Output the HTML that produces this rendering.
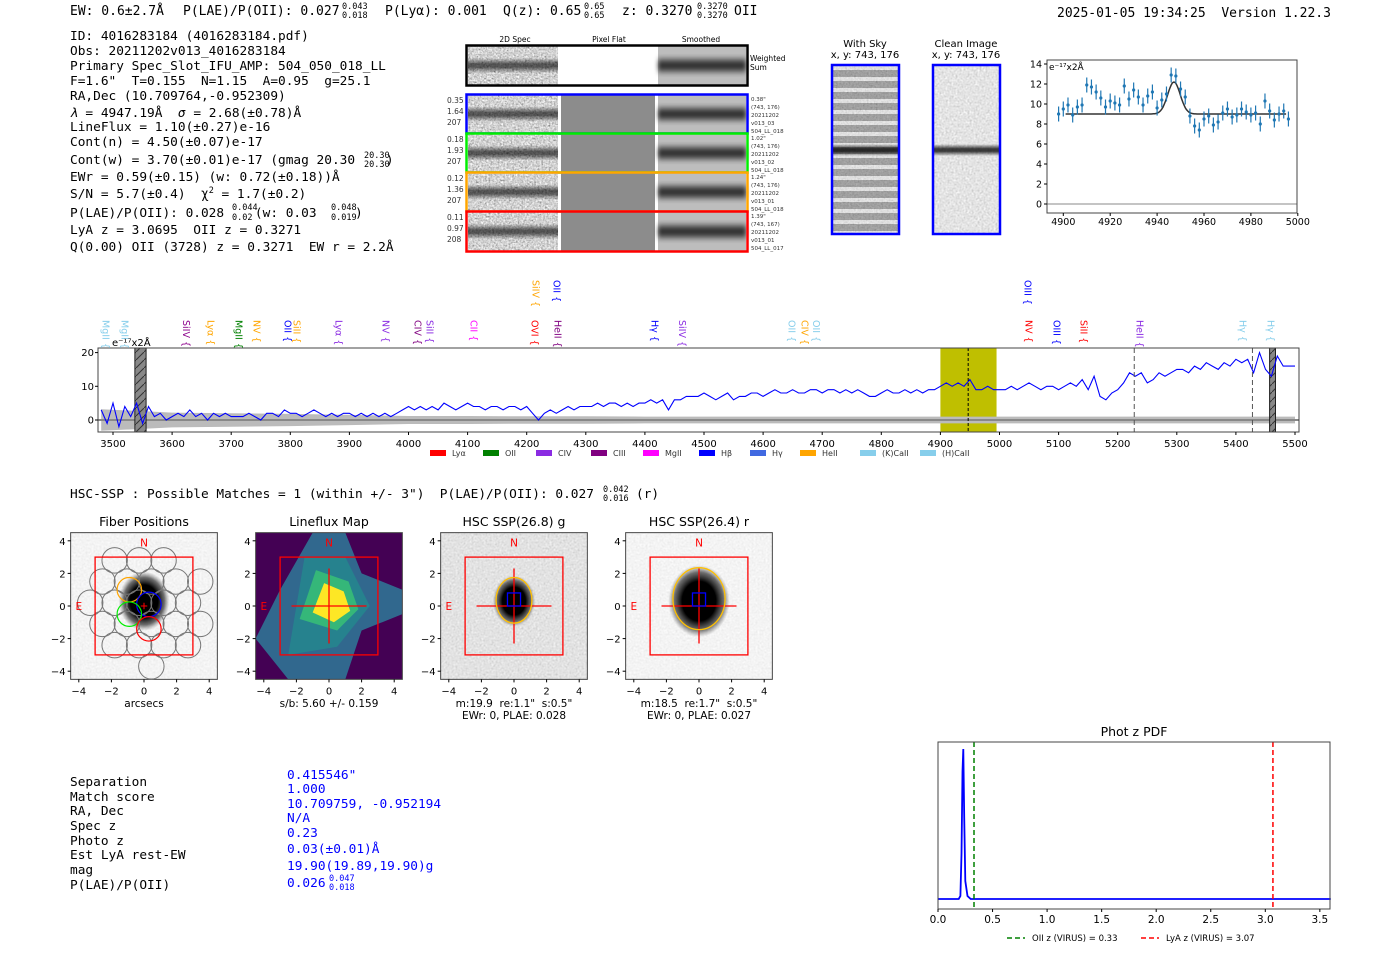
<!DOCTYPE html>
<html><head><meta charset="utf-8"><title>Detection report</title>
<style>
html,body{margin:0;padding:0;background:#fff;}
svg{display:block;}
svg text{white-space:pre;}
.mono{font-family:"DejaVu Sans Mono","Liberation Mono",monospace;}
.sans{font-family:"DejaVu Sans","Liberation Sans",sans-serif;}
</style></head>
<body>
<svg id="page" width="1400" height="953" viewBox="0 0 1400 953" xmlns="http://www.w3.org/2000/svg" xml:space="preserve">
<defs>
  <filter id="noise" x="0" y="0" width="100%" height="100%">
    <feTurbulence type="fractalNoise" baseFrequency="0.55" numOctaves="2" seed="3"/>
    <feColorMatrix type="matrix" values="0.33 0.33 0.33 0 0  0.33 0.33 0.33 0 0  0.33 0.33 0.33 0 0  0 0 0 0 1"/>
    <feComponentTransfer><feFuncR type="linear" slope="1.8" intercept="-0.25"/><feFuncG type="linear" slope="1.8" intercept="-0.25"/><feFuncB type="linear" slope="1.8" intercept="-0.25"/></feComponentTransfer>
  </filter>
  <filter id="noiseLight" x="0" y="0" width="100%" height="100%">
    <feTurbulence type="fractalNoise" baseFrequency="0.5" numOctaves="1" seed="7"/>
    <feColorMatrix type="matrix" values="0.3 0.3 0.3 0 0.2  0.3 0.3 0.3 0 0.2  0.3 0.3 0.3 0 0.2  0 0 0 0 1"/>
  </filter>
  <filter id="noiseMid" x="0" y="0" width="100%" height="100%">
    <feTurbulence type="fractalNoise" baseFrequency="0.5" numOctaves="1" seed="5"/>
    <feColorMatrix type="matrix" values="0.3 0.3 0.3 0 0.32  0.3 0.3 0.3 0 0.32  0.3 0.3 0.3 0 0.32  0 0 0 0 1"/>
  </filter>
  <filter id="noiseVeryLight" x="0" y="0" width="100%" height="100%">
    <feTurbulence type="fractalNoise" baseFrequency="0.5" numOctaves="1" seed="11"/>
    <feColorMatrix type="matrix" values="0.12 0.12 0.12 0 0.72  0.12 0.12 0.12 0 0.72  0.12 0.12 0.12 0 0.72  0 0 0 0 1"/>
  </filter>
  <filter id="blur2"><feGaussianBlur stdDeviation="2"/></filter>
  <radialGradient id="blob" cx="50%" cy="50%" r="50%">
    <stop offset="0" stop-color="#000"/><stop offset="0.55" stop-color="#000"/><stop offset="0.8" stop-color="#333" stop-opacity="0.7"/><stop offset="1" stop-color="#666" stop-opacity="0"/>
  </radialGradient>
  <linearGradient id="band" x1="0" y1="0" x2="0" y2="1">
    <stop offset="0" stop-color="#000" stop-opacity="0"/><stop offset="0.4" stop-color="#000" stop-opacity="0.75"/><stop offset="0.6" stop-color="#000" stop-opacity="0.75"/><stop offset="1" stop-color="#000" stop-opacity="0"/>
  </linearGradient>
  <pattern id="skyStripes" width="10" height="11" patternUnits="userSpaceOnUse">
    <rect width="10" height="11" fill="#8a8a8a"/><rect y="0" width="10" height="4" fill="#e6e6e6"/>
  </pattern>
  <pattern id="hatch" width="8" height="8" patternUnits="userSpaceOnUse">
    <rect width="8" height="8" fill="#888"/><path d="M0,8 L8,0" stroke="#333" stroke-width="1"/>
  </pattern>
</defs>

<!-- header -->
<g class="mono" font-size="13" fill="#000">
  <text x="70" y="15">EW: 0.6±2.7Å</text>
  <text x="183" y="15">P(LAE)/P(OII): 0.027</text>
  <text x="342" y="9" font-size="8.5">0.043</text><text x="342" y="18" font-size="8.5">0.018</text>
  <text x="385" y="15">P(Lyα): 0.001</text>
  <text x="503" y="15">Q(z): 0.65</text>
  <text x="584" y="9" font-size="8.5">0.65</text><text x="584" y="18" font-size="8.5">0.65</text>
  <text x="622" y="15">z: 0.3270</text>
  <text x="697" y="9" font-size="8.5">0.3270</text><text x="697" y="18" font-size="8.5">0.3270</text>
  <text x="734" y="15">OII</text>
</g>
<text class="mono" x="1057" y="17" font-size="13">2025-01-05 19:34:25  Version 1.22.3</text>

<!-- left detail block -->
<g class="mono" font-size="12.8" fill="#000">
  <text x="70" y="40">ID: 4016283184 (4016283184.pdf)</text>
  <text x="70" y="55">Obs: 20211202v013_4016283184</text>
  <text x="70" y="70">Primary Spec_Slot_IFU_AMP: 504_050_018_LL</text>
  <text x="70" y="85">F=1.6"  T=0.155  N=1.15  A=0.95  g=25.1</text>
  <text x="70" y="100">RA,Dec (10.709764,-0.952309)</text>
  <text x="70" y="117"><tspan font-style="italic">λ</tspan> = 4947.19Å  <tspan font-style="italic">σ</tspan> = 2.68(±0.78)Å</text>
  <text x="70" y="131">LineFlux = 1.10(±0.27)e-16</text>
  <text x="70" y="146">Cont(n) = 4.50(±0.07)e-17</text>
  <text x="70" y="164">Cont(w) = 3.70(±0.01)e-17 (gmag 20.30    )</text>
  <text x="364" y="158" font-size="8.5">20.30</text><text x="364" y="167" font-size="8.5">20.30</text>
  <text x="70" y="181">EWr = 0.59(±0.15) (w: 0.72(±0.18))Å</text>
  <text x="70" y="198">S/N = 5.7(±0.4)  χ<tspan font-size="8.5" dy="-5">2</tspan><tspan dy="5"> = 1.7(±0.2)</tspan></text>
  <text x="70" y="217">P(LAE)/P(OII): 0.028    (w: 0.03     )</text>
  <text x="232" y="210" font-size="8.5">0.044</text><text x="232" y="220" font-size="8.5">0.02</text>
  <text x="331" y="210" font-size="8.5">0.048</text><text x="331" y="220" font-size="8.5">0.019</text>
  <text x="70" y="234">LyA z = 3.0695  OII z = 0.3271</text>
  <text x="70" y="251">Q(0.00) OII (3728) z = 0.3271  EW r = 2.2Å</text>
</g>

<!-- 2D spectra cutouts -->
<g id="cutouts" class="sans">
  <text x="515" y="42" font-size="7.5" text-anchor="middle">2D Spec</text>
  <text x="609" y="42" font-size="7.5" text-anchor="middle">Pixel Flat</text>
  <text x="701" y="42" font-size="7.5" text-anchor="middle">Smoothed</text>
  <text x="750" y="61" font-size="7.5">Weighted</text>
  <text x="750" y="70" font-size="7.5">Sum</text>
</g>

<!-- sky stamps -->
<g class="sans" font-size="10" text-anchor="middle">
  <text x="865" y="47">With Sky</text><text x="865" y="58">x, y: 743, 176</text>
  <text x="966" y="47">Clean Image</text><text x="966" y="58">x, y: 743, 176</text>
  <rect x="832" y="65" width="67" height="169" fill="url(#skyStripes)"/>
  <rect x="832" y="65" width="67" height="169" filter="url(#noise)" opacity="0.3"/>
  <rect x="832" y="144" width="67" height="12" fill="url(#band)"/>
  <rect x="832" y="65" width="67" height="169" fill="none" stroke="#0000ff" stroke-width="2.5"/>
  <rect x="933" y="65" width="67" height="169" filter="url(#noiseMid)"/>
  <rect x="933" y="144" width="67" height="12" fill="url(#band)"/>
  <rect x="933" y="65" width="67" height="169" fill="none" stroke="#0000ff" stroke-width="2.5"/>
</g>

<g id="zoomSpec" class="sans"></g>
<g id="mainSpec" class="sans"></g>

<text class="mono" x="70" y="498" font-size="12.8">HSC-SSP : Possible Matches = 1 (within +/- 3")  P(LAE)/P(OII): 0.027</text>
<text class="mono" x="603" y="492" font-size="8.5">0.042</text>
<text class="mono" x="603" y="501" font-size="8.5">0.016</text>
<text class="mono" x="636" y="498" font-size="12.8">(r)</text>

<g id="panels" class="sans"></g>

<!-- bottom table -->
<g class="mono" font-size="12.8">
  <text x="70" y="786">Separation</text><text x="287" y="779" fill="#0000ff">0.415546"</text>
  <text x="70" y="801">Match score</text><text x="287" y="793" fill="#0000ff">1.000</text>
  <text x="70" y="815">RA, Dec</text><text x="287" y="808" fill="#0000ff">10.709759, -0.952194</text>
  <text x="70" y="830">Spec z</text><text x="287" y="822" fill="#0000ff">N/A</text>
  <text x="70" y="845">Photo z</text><text x="287" y="837" fill="#0000ff">0.23</text>
  <text x="70" y="859">Est LyA rest-EW</text><text x="287" y="853" fill="#0000ff">0.03(±0.01)Å</text>
  <text x="70" y="874">mag</text><text x="287" y="870" fill="#0000ff">19.90(19.89,19.90)g</text>
  <text x="70" y="889">P(LAE)/P(OII)</text><text x="287" y="887" fill="#0000ff">0.026</text>
  <text x="329" y="881" font-size="8.5" fill="#0000ff">0.047</text><text x="329" y="890" font-size="8.5" fill="#0000ff">0.018</text>
</g>

<g id="photz" class="sans"></g>

<script>
// ===== data =====
const zoomWave = [4898,4900,4902,4904,4906,4908,4910,4912,4914,4916,4918,4920,4922,4924,4926,4928,4930,4932,4934,4936,4938,4940,4942,4944,4946,4948,4950,4952,4954,4956,4958,4960,4962,4964,4966,4968,4970,4972,4974,4976,4978,4980,4982,4984,4986,4988,4990,4992,4994,4996];
const zoomFlux = [9.0,9.5,9.9,8.9,9.7,9.9,11.9,11.7,11.2,10.6,9.7,10.3,10.1,9.9,11.8,10.5,11.4,10.7,9.9,10.8,11.2,9.6,10.4,11.0,12.9,12.8,11.5,10.7,8.8,7.8,7.4,8.5,8.8,7.9,8.2,9.1,9.5,8.7,8.9,9.5,9.2,8.9,9.1,8.0,10.3,9.3,8.4,9.0,9.3,8.5];
const zoomErr = [0.75,0.75,0.75,0.75,0.75,0.75,0.75,0.75,0.75,0.75,0.75,0.75,0.75,0.75,0.75,0.75,0.75,0.75,0.75,0.75,0.75,0.75,0.75,0.75,0.75,0.75,0.75,0.75,0.75,0.75,0.75,0.75,0.75,0.75,0.75,0.75,0.75,0.75,0.75,0.75,0.75,0.75,0.75,0.75,0.75,0.75,0.75,0.75,0.75,0.75];
const fitParams = [9.0, 3.2, 4947.19, 2.68]; // continuum, amplitude, center, sigma
const zoomXTicks = [4900,4920,4940,4960,4980,5000];
const zoomYTicks = [0,2,4,6,8,10,12,14];

const specFlux = [3,-1,5,-2,4,1,5,-1,4,
 1,2,0,1,2,1,3,1,2,0,2,1,2,1,
 1,1,2,1,0,2,2,1,3,2,2,1,2,3,2,1,2,1,2,2,
 1,2,1,2,1,2,1,2,3,4,
 3,4,3,4,3,5,4,3,4,5,4,4,3,4,4,3,4,4,3,4,
 2,0,2,3,2,3,4,3,4,4,
 4,5,4,5,5,4,5,4,5,5,6,5,6,3,6,6,7,7,7,8,
 7,6,7,8,6,7,7,8,8,7,8,9,8,8,9,8,8,9,9,8,
 9,9,8,9,8,9,8,7,7,8,9,8,8,9,8,9,8,9,9,10,
 11,10,11,10,12,9,9,10,9,9,
 9,10,9,10,11,10,9,10,10,9,
 10,11,10,12,9,13,7,6,8,9,
 11,14,13,14,11,12,14,13,14,15,
 15,14,16,15,17,16,15,17,16,18,
 17,18,14,20,15,13,19,16,16,16];
const specStart = 3480, specStep = 10;
const noiseWave = [3480,3600,3700,3800,3900,4000,4100,4200,4300,4400,4500,4700,4900,5100,5300,5500];
const noiseLevel = [3.2,2.2,2.0,1.8,1.5,1.2,1.2,1.1,1.1,1.0,1.0,1.0,1.0,1.0,1.0,1.0];
const specXTicks = [3500,3600,3700,3800,3900,4000,4100,4200,4300,4400,4500,4600,4700,4800,4900,5000,5100,5200,5300,5400,5500];
const specYTicks = [0,10,20];
const lineWave = [3488,3520,3624,3666,3713,3744,3796,3811,3882,3962,4016,4036,4111,4214,4253,4216,4251,4417,4464,4649,4671,4690,5050,5048,5097,5143,5238,5412,5459];
const lineName = ["MgII","MgII","SiIV","Lyα","MgII","NV","OII","SiII","Lyα","NV","CIV","SiII","CII","OVI","HeII","SiIV","OII","Hγ","SiIV","OII","CIV","OII","NV","OIII","OIII","SiII","HeII","Hγ","Hγ"];
const lineColor = ["#87ceeb","#87ceeb","#8b008b","#ffa500","#008000","#ffa500","#0000ff","#ffa500","#8a2be2","#8a2be2","#800080","#8a2be2","#ff00ff","#ff0000","#800080","#ffa500","#0000ff","#0000ff","#8a2be2","#87ceeb","#ffa500","#87ceeb","#ff0000","#0000ff","#0000ff","#ff0000","#8a2be2","#87ceeb","#87ceeb"];
const lineRow = [0,0,0,0,0,0,0,0,0,0,0,0,0,0,0,1,1,0,0,0,0,0,0,1,0,0,0,0,0];
const legendNames = ["Lyα","OII","CIV","CIII","MgII","Hβ","Hγ","HeII","(K)CaII","(H)CaII"];
const legendColors = ["#ff0000","#008000","#8a2be2","#800080","#ff00ff","#0000ff","#4169e1","#ffa500","#87ceeb","#87ceeb"];

const pdfZ = [0,0.19,0.205,0.215,0.225,0.232,0.24,0.25,0.27,0.3,3.6];
const pdfP = [0,0,0.02,0.3,0.85,1.0,0.55,0.12,0.02,0,0];
const pdfXTicks = [0,0.5,1.0,1.5,2.0,2.5,3.0,3.5];
const pdfMarkers = [0.33, 3.07];

const NS = "http://www.w3.org/2000/svg";
function mk(parent, tag, attrs, txt){
  const e = document.createElementNS(NS, tag);
  for (const k in attrs) e.setAttribute(k, attrs[k]);
  if (txt !== undefined) e.textContent = txt;
  parent.appendChild(e);
  return e;
}

// ===== cutouts =====
(function(){
  const g = document.getElementById('cutouts');
  const rows = [[46,39,"#000"],[95,38,"#0000ff"],[134,38,"#00ee00"],[173,38,"#ffa500"],[212,39,"#ff0000"]];
  const leftNums = [null,["0.35","1.64","207"],["0.18","1.93","207"],["0.12","1.36","207"],["0.11","0.97","208"]];
  const rightTxt = [null,["0.38\"","(743, 176)","20211202","v013_03","504_LL_018"],["1.02\"","(743, 176)","20211202","v013_02","504_LL_018"],["1.24\"","(743, 176)","20211202","v013_01","504_LL_018"],["1.39\"","(743, 167)","20211202","v013_01","504_LL_017"]];
  rows.forEach((r,i)=>{
    const y=r[0], h=r[1];
    const n1 = mk(g,'rect',{x:468,y:y,width:90,height:h,filter:'url(#noise)'});
    
    
    mk(g,'rect',{x:468,y:y+h*0.3,width:90,height:h*0.4,fill:'url(#band)',opacity:0.8});
    const pf = mk(g,'rect',{x:561,y:y,width:94,height:h,fill:i===0?'#fff':'#8c8c8c'});
    
    
    const sm = mk(g,'rect',{x:658,y:y,width:88,height:h,fill:'#bdbdbd'});
    
    
    mk(g,'rect',{x:658,y:y+h*0.25,width:88,height:h*0.5,fill:'url(#band)',filter:'url(#blur2)'});
    mk(g,'rect',{x:466.5,y:y-0.5,width:281,height:h+1,fill:'none',stroke:r[2],'stroke-width':2.5});
    if(leftNums[i]) leftNums[i].forEach((t,j)=>mk(g,'text',{x:447,y:y+8+j*11,'font-size':7.5,fill:'#333'},t));
    if(rightTxt[i]) rightTxt[i].forEach((t,j)=>mk(g,'text',{x:751,y:y+6+j*8,'font-size':5.5,fill:'#333'},t));
  });
})();

// ===== zoom spectrum =====
(function(){
  const g = document.getElementById('zoomSpec');
  const L=1047,R=1297,T=60,B=213;
  const X=w=>1063.3+(w-4900)*2.345, Y=v=>204-10*v;
  mk(g,'line',{x1:L,x2:R,y1:Y(0),y2:Y(0),stroke:'#888','stroke-width':1});
  const fit=[]; for(let w=4901; w<=4995; w+=0.5){ const v=fitParams[0]+fitParams[1]*Math.exp(-0.5*Math.pow((w-fitParams[2])/fitParams[3],2)); fit.push(X(w).toFixed(1)+','+Y(v).toFixed(1)); }
  const fl = mk(g,'polyline',{points:fit.join(' '),fill:'none',stroke:'#333','stroke-width':1.5});
  
  
  zoomWave.forEach((w,i)=>{
    const eb = mk(g,'line',{x1:X(w),x2:X(w),y1:Y(zoomFlux[i]+zoomErr[i]),y2:Y(zoomFlux[i]-zoomErr[i]),stroke:'#1f77b4','stroke-width':1.2});
    
    
    const p = mk(g,'circle',{cx:X(w),cy:Y(zoomFlux[i]),r:1.6,fill:'#1f77b4'});
    
    
  });
  mk(g,'rect',{x:L,y:T,width:R-L,height:B-T,fill:'none',stroke:'#444','stroke-width':1});
  zoomYTicks.forEach(v=>{ mk(g,'line',{x1:L-3,x2:L,y1:Y(v),y2:Y(v),stroke:'#000'}); const t=mk(g,'text',{x:L-5,y:Y(v)+3.5,'font-size':9.5,'text-anchor':'end'},String(v));   });
  zoomXTicks.forEach(v=>{ mk(g,'line',{x1:X(v),x2:X(v),y1:B,y2:B+3,stroke:'#000'}); const t=mk(g,'text',{x:X(v),y:B+12,'font-size':9.5,'text-anchor':'middle'},String(v));   });
  mk(g,'text',{x:L+2,y:T+10,'font-size':9},'e⁻¹⁷x2Å');
})();

// ===== main spectrum =====
(function(){
  const g = document.getElementById('mainSpec');
  const L=98,R=1299,T=348,B=432;
  const X=w=>113+(w-3500)*0.591, Y=v=>420-3.37*v;
  mk(g,'rect',{x:L,y:T,width:R-L,height:B-T,fill:'#fff'});
  const yb = mk(g,'rect',{x:X(4900),y:T,width:X(4995)-X(4900),height:B-T,fill:'#bfbf00'});
  
  
  const up=[],dn=[];
  noiseWave.forEach((w,i)=>{ up.push(X(w).toFixed(1)+','+Y(noiseLevel[i]).toFixed(1)); dn.unshift(X(w).toFixed(1)+','+Y(-noiseLevel[i]).toFixed(1)); });
  const nb = mk(g,'polygon',{points:up.concat(dn).join(' '),fill:'#bbb'});
  
  
  mk(g,'line',{x1:L,x2:R,y1:Y(0),y2:Y(0),stroke:'#888','stroke-width':2});
  [[3537,3556],[5457,5467]].forEach(b=>{ const h=mk(g,'rect',{x:X(b[0]),y:T,width:X(b[1])-X(b[0]),height:B-T,fill:'url(#hatch)',stroke:'#222'});   });
  const pts = specFlux.map((v,i)=>X(specStart+i*specStep).toFixed(1)+','+Y(v).toFixed(1));
  const sl = mk(g,'polyline',{points:pts.join(' '),fill:'none',stroke:'#0000ff','stroke-width':1.1});
  
  
  const dl = mk(g,'line',{x1:X(4947),x2:X(4947),y1:T,y2:B,stroke:'#000','stroke-dasharray':'3,2'});
  
  
  [5228,5428].forEach(w=>{ const d=mk(g,'line',{x1:X(w),x2:X(w),y1:T,y2:B,stroke:'#555','stroke-dasharray':'5,3'});   });
  mk(g,'rect',{x:L,y:T,width:R-L,height:B-T,fill:'none',stroke:'#444'});
  specYTicks.forEach(v=>{ mk(g,'line',{x1:L-3,x2:L,y1:Y(v),y2:Y(v),stroke:'#000'}); const t=mk(g,'text',{x:L-4,y:Y(v)+3.5,'font-size':10,'text-anchor':'end'},String(v));   });
  specXTicks.forEach(v=>{ mk(g,'line',{x1:X(v),x2:X(v),y1:B,y2:B+3,stroke:'#000'}); const t=mk(g,'text',{x:X(v),y:B+15,'font-size':10,'text-anchor':'middle'},String(v));   });
  mk(g,'text',{x:112,y:346,'font-size':10},'e⁻¹⁷x2Å');
  lineWave.forEach((w,i)=>{
    const x=X(w), yTop = lineRow[i]?280:320;
    const t = mk(g,'text',{x:0,y:0,'font-size':9.5,fill:lineColor[i],transform:`translate(${x-3.5},${yTop}) rotate(90)`},lineName[i]+' {');
    
    
  });
  let lx=430;
  const gaps=[53,53,55,52,56,51,50,60,60,60];
  legendNames.forEach((n,i)=>{
    const r=mk(g,'rect',{x:lx,y:450,width:16,height:6,fill:legendColors[i]});
    
    
    const t=mk(g,'text',{x:lx+22,y:456,'font-size':8,fill:'#333'},n);
    
    
    lx+=gaps[i];
  });
})();

// ===== imaging panels =====
(function(){
  const g = document.getElementById('panels');
  const centers=[144,329,514,699];
  const titles=["Fiber Positions","Lineflux Map","HSC SSP(26.8) g","HSC SSP(26.4) r"];
  const sub1=["arcsecs","s/b: 5.60 +/- 0.159","m:19.9  re:1.1\"  s:0.5\"","m:18.5  re:1.7\"  s:0.5\""];
  const sub2=[null,null,"EWr: 0, PLAE: 0.028","EWr: 0, PLAE: 0.027"];
  const S=16.3, cy=606;
  centers.forEach((cx,p)=>{
    const X=a=>cx+a*S, Y=a=>cy-a*S;
    const L=X(-4.5), T=Y(4.5), W=9*S;
    const cp = mk(g,'clipPath',{id:'cp'+p}); mk(cp,'rect',{x:L,y:T,width:W,height:W});
    const ig = mk(g,'g',{'clip-path':`url(#cp${p})`});
    if(p===1){
      mk(ig,'rect',{x:L,y:T,width:W,height:W,fill:'#440154'});
      mk(ig,'polygon',{points:`${X(-1)},${T} ${X(1)},${T} ${X(2)},${Y(2)} ${X(4.5)},${Y(1)} ${X(4.5)},${Y(-0.5)} ${X(2)},${Y(-1.5)} ${X(1)},${Y(-4.5)} ${X(-2.5)},${Y(-4.5)} ${X(-4.5)},${Y(-2)} ${X(-3)},${Y(1)}`,fill:'#31688e'});
      mk(ig,'polygon',{points:`${X(-1.5)},${Y(3)} ${X(1)},${Y(3)} ${X(2.5)},${Y(0)} ${X(0.5)},${Y(-2.5)} ${X(-2.5)},${Y(-3)} ${X(-2)},${Y(0)}`,fill:'#26828e'});
      mk(ig,'polygon',{points:`${X(-0.8)},${Y(2.2)} ${X(1.2)},${Y(1.5)} ${X(1.8)},${Y(-0.2)} ${X(0.5)},${Y(-1.5)} ${X(-1.8)},${Y(-0.8)}`,fill:'#35b779'});
      mk(ig,'polygon',{points:`${X(-0.3)},${Y(1.4)} ${X(0.9)},${Y(0.9)} ${X(1.3)},${Y(-0.3)} ${X(0.3)},${Y(-1.0)} ${X(-1.0)},${Y(-0.4)}`,fill:'#fde725'});
    } else {
      mk(ig,'rect',{x:L,y:T,width:W,height:W,filter:p===2?'url(#noiseLight)':'url(#noiseVeryLight)'});
      if(p===2) mk(ig,'rect',{x:L,y:T,width:W,height:W,fill:'#fff',opacity:0.35});
      const rx = p===3?1.45:p===2?1.0:1.2, ry = p===3?1.7:p===2?1.2:1.4;
      mk(ig,'ellipse',{cx:X(0),cy:Y(0.3),rx:rx*S*1.3,ry:ry*S*1.3,fill:'url(#blob)'});
    }
    const frame=mk(g,'rect',{x:L,y:T,width:W,height:W,fill:'none',stroke:'#444'});
    
    
    if(p===0){
      const fib=[];
      for(let r=-3;r<=3;r++){ for(let c=-3;c<=3;c++){ const fx=c*1.5+(r%2?0.75:0)-0.3, fy=r*1.3+0.2; if(Math.hypot(fx,fy)<3.8) fib.push([fx,fy]); } }
      fib.forEach(f=>mk(g,'circle',{cx:X(f[0]),cy:Y(f[1]),r:0.78*S,fill:'none',stroke:'#777','stroke-width':1}));
      [[-0.9,1.0,'#ffa500'],[0.3,0.1,'#0000ff'],[-0.9,-0.5,'#00ee00'],[0.3,-1.4,'#ff0000']].forEach(f=>{
        const c=mk(g,'circle',{cx:X(f[0]),cy:Y(f[1]),r:0.75*S,fill:'none',stroke:f[2],'stroke-width':1.2});
        
        
      });
      mk(g,'line',{x1:X(-0.2),x2:X(0.2),y1:Y(0),y2:Y(0),stroke:'red'});
      mk(g,'line',{x1:X(0),x2:X(0),y1:Y(0.2),y2:Y(-0.2),stroke:'red'});
    } else {
      mk(g,'line',{x1:X(-2.3),x2:X(2.3),y1:Y(0),y2:Y(0),stroke:'red','stroke-width':1.3});
      mk(g,'line',{x1:X(0),x2:X(0),y1:Y(2.3),y2:Y(-2.3),stroke:'red','stroke-width':1.3});
    }
    if(p>=2){
      const ex = p===2?[1.1,1.4,0.35]:[1.6,1.9,0.45];
      const e=mk(g,'ellipse',{cx:X(0),cy:Y(ex[2]),rx:ex[0]*S,ry:ex[1]*S,fill:'none',stroke:'#ffc000','stroke-width':1.3});
      
      
      mk(g,'rect',{x:X(-0.4),y:Y(0.8),width:0.8*S,height:0.8*S,fill:'none',stroke:'#0000ff','stroke-width':1.3});
    }
    mk(g,'rect',{x:X(-3),y:Y(3),width:6*S,height:6*S,fill:'none',stroke:'red','stroke-width':1.3});
    mk(g,'text',{x:X(0),y:Y(3.9)+4,'font-size':10.5,fill:'red','text-anchor':'middle'},'N');
    mk(g,'text',{x:X(-4),y:Y(0)+4,'font-size':10.5,fill:'red','text-anchor':'middle'},'E');
    const tt=mk(g,'text',{x:cx,y:526,'font-size':12.5,'text-anchor':'middle'},titles[p]);
    
    
    [-4,-2,0,2,4].forEach(v=>{
      mk(g,'line',{x1:L-3,x2:L,y1:Y(v),y2:Y(v),stroke:'#000'});
      mk(g,'text',{x:L-5,y:Y(v)+4,'font-size':10,'text-anchor':'end'},String(v).replace('-','−'));
      mk(g,'line',{x1:X(v),x2:X(v),y1:T+W,y2:T+W+3,stroke:'#000'});
      mk(g,'text',{x:X(v),y:T+W+15,'font-size':10,'text-anchor':'middle'},String(v).replace('-','−'));
    });
    mk(g,'text',{x:cx,y:707,'font-size':10.5,'text-anchor':'middle'},sub1[p]);
    if(sub2[p]) mk(g,'text',{x:cx,y:719,'font-size':10.5,'text-anchor':'middle'},sub2[p]);
  });
})();

// ===== phot z pdf =====
(function(){
  const g = document.getElementById('photz');
  const L=938,R=1330,T=742,B=909;
  const X=z=>938+z*109.1, Y=p=>899-150*p;
  mk(g,'text',{x:1134,y:736,'font-size':12.5,'text-anchor':'middle'},'Phot z PDF');
  const pts=pdfZ.map((z,i)=>X(z).toFixed(1)+','+Y(pdfP[i]).toFixed(1));
  const pl=mk(g,'polyline',{points:pts.join(' '),fill:'none',stroke:'#0000ff','stroke-width':1.8});
  
  
  const cols=['#008000','#ff0000'];
  pdfMarkers.forEach((z,i)=>{ const d=mk(g,'line',{x1:X(z),x2:X(z),y1:T,y2:B,stroke:cols[i],'stroke-width':1.5,'stroke-dasharray':'5,3'});   });
  mk(g,'rect',{x:L,y:T,width:R-L,height:B-T,fill:'none',stroke:'#444'});
  pdfXTicks.forEach(v=>{ mk(g,'line',{x1:X(v),x2:X(v),y1:B,y2:B+3,stroke:'#000'}); const t=mk(g,'text',{x:X(v),y:B+14,'font-size':10.5,'text-anchor':'middle'},v.toFixed(1));   });
  mk(g,'line',{x1:1007,x2:1025,y1:938,y2:938,stroke:'#008000','stroke-width':1.5,'stroke-dasharray':'5,3'});
  mk(g,'text',{x:1032,y:941,'font-size':8.5},'OII z (VIRUS) = 0.33');
  mk(g,'line',{x1:1141,x2:1159,y1:938,y2:938,stroke:'#ff0000','stroke-width':1.5,'stroke-dasharray':'5,3'});
  mk(g,'text',{x:1166,y:941,'font-size':8.5},'LyA z (VIRUS) = 3.07');
})();
</script>
</svg>
</body></html>
